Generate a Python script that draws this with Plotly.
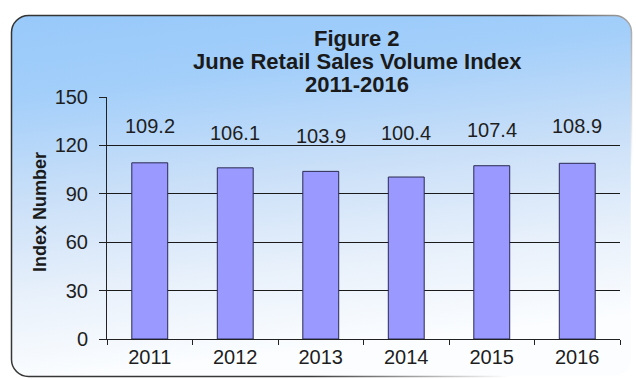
import base64
import plotly.graph_objects as go

# June retail sales volume index by year
years = ["2011", "2012", "2013", "2014", "2015", "2016"]
index_values = [109.2, 106.1, 103.9, 100.4, 107.4, 108.9]
y_ticks = [0, 30, 60, 90, 120, 150]

# vertical placement of the value labels (axis units)
label_y = [132.0, 127.9, 125.8, 127.4, 129.5, 132.0]

W, H = 636, 379
L, R, T, B = 107, 16, 97, 40
pw, ph = W - L - R, H - T - B
FONT = "Liberation Sans, Arial"

# rounded panel with a blue-to-white gradient behind the chart
svg = f"""<svg xmlns='http://www.w3.org/2000/svg' width='{W}' height='{H}' viewBox='0 0 {W} {H}' preserveAspectRatio='none'>
<defs>
<linearGradient id='bg' gradientUnits='userSpaceOnUse' x1='0' y1='15' x2='40' y2='380'>
<stop offset='0' stop-color='#98C9FA'/>
<stop offset='0.22' stop-color='#A2CEFA'/>
<stop offset='0.5' stop-color='#C9DFF8'/>
<stop offset='0.78' stop-color='#E9F1FB'/>
<stop offset='1' stop-color='#FBFDFF'/>
</linearGradient>
<linearGradient id='edge' gradientUnits='userSpaceOnUse' x1='0' y1='0' x2='636' y2='379'>
<stop offset='0' stop-color='#333333'/>
<stop offset='0.62' stop-color='#3a3a3a'/>
<stop offset='0.85' stop-color='#FFFFFF'/>
</linearGradient>
</defs>
<rect x='0' y='0' width='{W}' height='{H}' fill='#FFFFFF'/>
<rect x='11.5' y='15.5' width='620' height='361' rx='17' ry='17' fill='url(#bg)' stroke='url(#edge)' stroke-width='1.5'/>
</svg>"""
svg_uri = "data:image/svg+xml;base64," + base64.b64encode(svg.encode()).decode()

fig = go.Figure()
fig.add_trace(go.Bar(
    x=years,
    y=index_values,
    width=0.42,
    marker=dict(color="#9999FF", line=dict(color="#2A2A50", width=1)),
    hoverinfo="x+y",
))

annotations = []
for i, (v, ly) in enumerate(zip(index_values, label_y)):
    annotations.append(dict(
        x=i, y=ly, xref="x", yref="y", text=f"{v:.1f}", showarrow=False,
        font=dict(family=FONT, size=20, color="#1E1E1E"),
    ))

# three-line heading
title_lines = ["Figure 2", "June Retail Sales Volume Index", "2011-2016"]
title_shift = [59, 36, 13]
for line, sh in zip(title_lines, title_shift):
    annotations.append(dict(
        x=(357 - L) / pw, y=1, xref="paper", yref="paper", yshift=sh,
        yanchor="middle", xanchor="center", text=f"<b>{line}</b>", showarrow=False,
        font=dict(family=FONT, size=22, color="#1A1A1A"),
    ))

annotations.append(dict(
    x=(40 - L) / pw, y=(339 - 212) / ph, xref="paper", yref="paper",
    text="<b>Index Number</b>", textangle=-90, showarrow=False,
    xanchor="center", yanchor="middle",
    font=dict(family=FONT, size=18, color="#1A1A1A"),
))

fig.update_layout(
    width=W, height=H,
    margin=dict(l=L, r=R, t=T, b=B, pad=0),
    paper_bgcolor="rgba(0,0,0,0)",
    plot_bgcolor="#FFFFFF",
    showlegend=False,
    annotations=annotations,
    images=[dict(
        source=svg_uri, xref="paper", yref="paper",
        x=-L / pw, y=1 + T / ph, sizex=W / pw, sizey=H / ph,
        xanchor="left", yanchor="top", sizing="stretch", layer="below",
    )],
    xaxis=dict(
        type="category", range=[-0.5, len(years) - 0.5],
        tickson="boundaries", ticks="outside", ticklen=5, tickcolor="#222222",
        showline=True, linecolor="#222222", linewidth=1,
        showgrid=False, zeroline=False, automargin=False,
        tickfont=dict(family=FONT, size=20, color="#1E1E1E"),
    ),
    yaxis=dict(
        range=[0, 150], tickvals=y_ticks, ticks="outside", ticklen=7,
        tickcolor="#222222", showline=True, linecolor="#222222", linewidth=1,
        showgrid=True, gridcolor="#1A1A1A", gridwidth=1, zeroline=False,
        automargin=False, ticklabelstandoff=7,
        tickfont=dict(family=FONT, size=20, color="#1E1E1E"),
    ),
)

fig.write_html("out.html")
